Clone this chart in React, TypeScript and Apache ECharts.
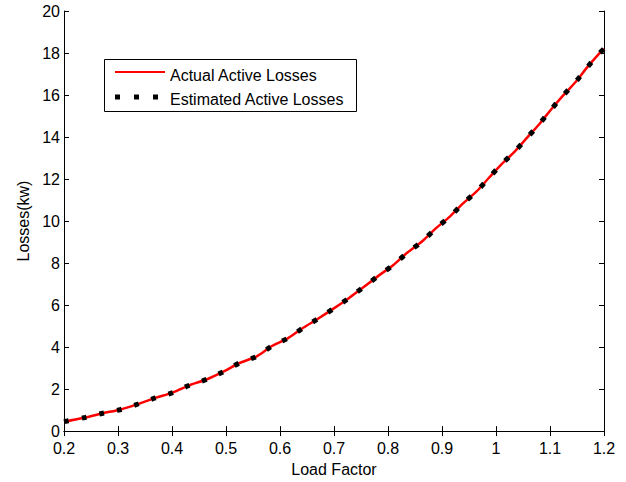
import React, { useEffect, useRef } from "react";
import * as echarts from "echarts";

const loadFactor = [0.2, 0.239, 0.272, 0.305, 0.337, 0.369, 0.401, 0.433, 0.465, 0.496, 0.524, 0.557, 0.585, 0.615, 0.643, 0.671, 0.699, 0.728, 0.755, 0.782, 0.81, 0.836, 0.864, 0.889, 0.914, 0.939, 0.964, 0.987, 1.01, 1.035, 1.058, 1.08, 1.102, 1.124, 1.147, 1.168, 1.191, 1.2];
const actualLosses = [0.45, 0.65, 0.85, 1.03, 1.29, 1.58, 1.83, 2.19, 2.47, 2.84, 3.23, 3.56, 4.05, 4.43, 4.92, 5.36, 5.83, 6.34, 6.86, 7.39, 7.91, 8.5, 9.05, 9.66, 10.2, 10.84, 11.41, 12.06, 12.7, 13.32, 13.98, 14.61, 15.31, 15.97, 16.61, 17.29, 17.97, 18.2];
const estimatedLosses = [0.45, 0.65, 0.85, 1.03, 1.29, 1.58, 1.83, 2.19, 2.47, 2.84, 3.23, 3.56, 4.05, 4.43, 4.92, 5.36, 5.83, 6.34, 6.86, 7.39, 7.91, 8.5, 9.05, 9.66, 10.2, 10.84, 11.41, 12.06, 12.7, 13.32, 13.98, 14.61, 15.31, 15.97, 16.61, 17.29, 17.97, 18.2];
const seriesNames = ["Actual Active Losses", "Estimated Active Losses"];
const xTitle = "Load Factor";
const yTitle = "Losses(kw)";

const FONT = 'Arial, "Liberation Sans", sans-serif';
const FS = 16;

export default function App() {
  const ref = useRef<HTMLDivElement>(null);
  useEffect(() => {
    if (!ref.current) return;
    const chart = echarts.init(ref.current, undefined, { renderer: "svg" });
    const axisCommon = {
      axisLine: { show: true, lineStyle: { color: "#000", width: 1 } },
      axisTick: { show: true, inside: true, length: 5, lineStyle: { color: "#000" } },
      splitLine: { show: false },
    };
    chart.setOption({
      animation: false,
      backgroundColor: "#fff",
      grid: { left: 64, right: 22, top: 11, bottom: 48, containLabel: false },
      xAxis: [
        {
          type: "value",
          min: 0.2,
          max: 1.2,
          interval: 0.1,
          name: xTitle,
          nameLocation: "middle",
          nameGap: 29,
          nameTextStyle: { fontFamily: FONT, fontSize: FS, color: "#000" },
          axisLabel: { fontFamily: FONT, fontSize: FS, color: "#000", margin: 9 },
          ...axisCommon,
        },
        {
          type: "value",
          position: "top",
          min: 0.2,
          max: 1.2,
          interval: 0.1,
          axisLabel: { show: false },
          ...axisCommon,
        },
      ],
      yAxis: [
        {
          type: "value",
          min: 0,
          max: 20,
          interval: 2,
          name: yTitle,
          nameLocation: "middle",
          nameGap: 31,
          nameTextStyle: { fontFamily: FONT, fontSize: FS, color: "#000" },
          axisLabel: { fontFamily: FONT, fontSize: FS, color: "#000", margin: 4 },
          ...axisCommon,
        },
        {
          type: "value",
          position: "right",
          min: 0,
          max: 20,
          interval: 2,
          axisLabel: { show: false },
          ...axisCommon,
        },
      ],
      series: [
        {
          name: seriesNames[0],
          type: "line",
          data: loadFactor.map((x, i) => [x, actualLosses[i]]),
          smooth: 0.3,
          showSymbol: false,
          lineStyle: { color: "#ff0000", width: 2.5 },
          z: 2,
        },
        {
          name: seriesNames[1],
          type: "line",
          data: loadFactor.map((x, i) => [x, estimatedLosses[i]]),
          smooth: 0.3,
          showSymbol: false,
          lineStyle: { color: "#000", width: 5, type: [5, 13], cap: "butt" },
          z: 3,
        },
      ],
      graphic: [
        {
          type: "rect",
          shape: { x: 104.5, y: 59.5, width: 252, height: 52 },
          style: { fill: "#fff", stroke: "#000", lineWidth: 1 },
          z: 10,
        },
        {
          type: "line",
          shape: { x1: 115, y1: 72, x2: 165, y2: 72 },
          style: { stroke: "#ff0000", lineWidth: 2 },
          z: 11,
        },
        {
          type: "text",
          x: 170,
          y: 75,
          style: { text: seriesNames[0], fontFamily: FONT, fontSize: FS, fill: "#000", verticalAlign: "middle" },
          z: 11,
        },
        {
          type: "line",
          shape: { x1: 115, y1: 97, x2: 160, y2: 97 },
          style: { stroke: "#000", lineWidth: 5, lineDash: [5, 14], lineCap: "butt" },
          z: 11,
        },
        {
          type: "text",
          x: 170,
          y: 99.5,
          style: { text: seriesNames[1], fontFamily: FONT, fontSize: FS, fill: "#000", verticalAlign: "middle" },
          z: 11,
        },
      ],
    });
    return () => chart.dispose();
  }, []);
  return (
    <div
      ref={ref}
      style={{ position: "fixed", left: 0, top: 0, width: 626, height: 482 }}
    />
  );
}
